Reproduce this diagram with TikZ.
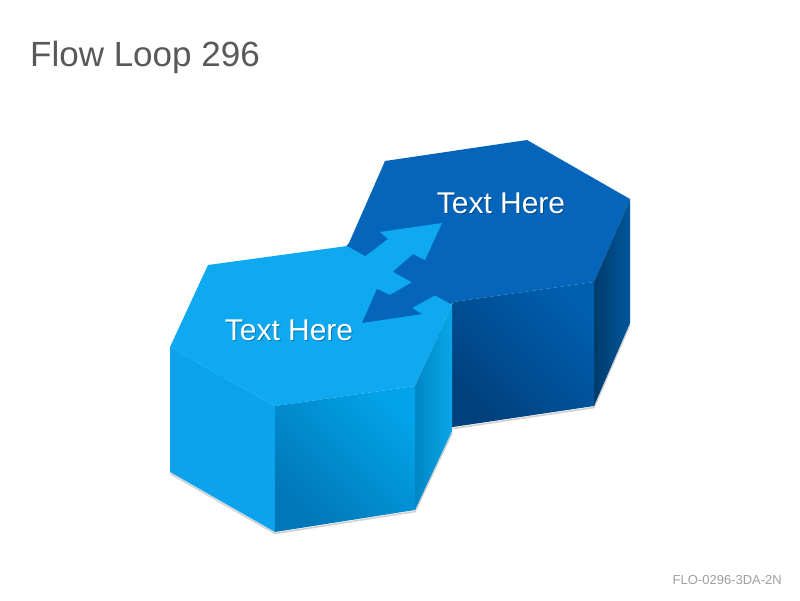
\documentclass[tikz,border=0pt]{standalone}
\usepackage{fontspec}
\setmainfont{Liberation Sans}
\definecolor{ltop}{HTML}{0EA9F0}
\definecolor{lleft}{HTML}{0CA3EC}
\definecolor{lfrontA}{HTML}{0077B8}
\definecolor{lfrontB}{HTML}{02A3E8}
\definecolor{lrightA}{HTML}{0086C4}
\definecolor{lrightB}{HTML}{0AA6E8}
\definecolor{dtop}{HTML}{0565BB}
\definecolor{dfrontA}{HTML}{00407C}
\definecolor{dfrontB}{HTML}{005EAE}
\definecolor{drightA}{HTML}{003C6C}
\definecolor{drightB}{HTML}{00579C}
\definecolor{titlegray}{HTML}{595959}
\definecolor{footgray}{HTML}{A0A0A0}
\begin{document}
\begin{tikzpicture}[x=1pt,y=-1pt,
  lbl/.style={text=white,font=\fontsize{30}{36}\selectfont,inner sep=0pt,anchor=base},
  lblshadow/.style={text=black,opacity=0.3,font=\fontsize{30}{36}\selectfont,inner sep=0pt,anchor=base},
  groundshadow/.style={draw=black!18,line width=1.6pt,line join=round}
]
\useasboundingbox (0,0) rectangle (800,600);
\fill[white] (0,0) rectangle (800,600);
% light hexagon
\coordinate (L1) at (208,265);
\coordinate (L2) at (347,246);
\coordinate (L3) at (452,305);
\coordinate (L4) at (415,386);
\coordinate (L5) at (275,406);
\coordinate (L6) at (170,347);
\coordinate (L3b) at (452,431);
\coordinate (L4b) at (415,510);
\coordinate (L5b) at (275,532);
\coordinate (L6b) at (170,472);
% dark hexagon
\coordinate (D1) at (385,161);
\coordinate (D2) at (527,140);
\coordinate (D3) at (630,199);
\coordinate (D4) at (594,282);
\coordinate (D5) at (453,302);
\coordinate (D6) at (349,243);
\coordinate (D3b) at (630,323);
\coordinate (D4b) at (594,406);
\coordinate (D5b) at (453,427);
% hidden extensions of the dark hexagon (covered by the light one)
\coordinate (E1) at (446,312);
\coordinate (E2) at (340,253);
\coordinate (E3) at (448,316);
\coordinate (E4) at (448,428);
% ground shadows
\coordinate (S1) at (170,473.5);
\coordinate (S2) at (275,533.5);
\coordinate (S3) at (415,511.5);
\coordinate (S4) at (452,433);
\coordinate (S5) at (453,428.5);
\coordinate (S6) at (594,407.5);
\coordinate (S7) at (630,324.5);
\draw[groundshadow] (S1) -- (S2) -- (S3) -- (S4);
\draw[groundshadow] (S5) -- (S6) -- (S7);
% dark hexagon faces
\fill[dtop] (D1) -- (D2) -- (D3) -- (D4) -- (D5) -- (E1) -- (E2) -- (D6) -- cycle;
\shade[bottom color=dfrontA, top color=dfrontB, shading angle=-45] (D5) -- (D4) -- (D4b) -- (D5b) -- (E4) -- (E3) -- cycle;
\shade[left color=drightA, right color=drightB] (D4) -- (D3) -- (D3b) -- (D4b) -- cycle;
% light hexagon faces
\fill[ltop] (L1) -- (L2) -- (L3) -- (L4) -- (L5) -- (L6) -- cycle;
\fill[lleft] (L6) -- (L5) -- (L5b) -- (L6b) -- cycle;
\shade[bottom color=lfrontA, top color=lfrontB, shading angle=-45] (L5) -- (L4) -- (L4b) -- (L5b) -- cycle;
\shade[left color=lrightA, right color=lrightB] (L4) -- (L3) -- (L3b) -- (L4b) -- cycle;
% light arrow (into the dark hexagon)
\coordinate (A1) at (359,261);
\coordinate (A2) at (388,239);
\coordinate (A3) at (380,232);
\coordinate (A4) at (442,223);
\coordinate (A5) at (425,260);
\coordinate (A6) at (413,254);
\coordinate (A7) at (388,276);
\fill[ltop] (A1) -- (A2) -- (A3) -- (A4) -- (A5) -- (A6) -- (A7) -- cycle;
% dark arrow (into the light hexagon)
\coordinate (B1) at (416,280);
\coordinate (B2) at (390,295);
\coordinate (B3) at (377,289);
\coordinate (B4) at (362,323);
\coordinate (B5) at (422,314);
\coordinate (B6) at (412,308);
\coordinate (B7) at (439,293);
\fill[dtop] (B1) -- (B2) -- (B3) -- (B4) -- (B5) -- (B6) -- (B7) -- cycle;
% labels
\node[lblshadow] (t1s) at (290,341) {Text Here};
\node[lbl] (t1) at (289,340) {Text Here};
\node[lblshadow] (t2s) at (502,214) {Text Here};
\node[lbl] (t2) at (501,213) {Text Here};
% title and footer
\node[anchor=base west,inner sep=0pt,text=titlegray,font=\fontsize{35}{42}\selectfont] (title) at (30,66) {Flow Loop 296};
\node[anchor=base east,inner sep=0pt,text=footgray,font=\fontsize{13}{15}\selectfont] (foot) at (782,584) {FLO-0296-3DA-2N};
\end{tikzpicture}
\end{document}
